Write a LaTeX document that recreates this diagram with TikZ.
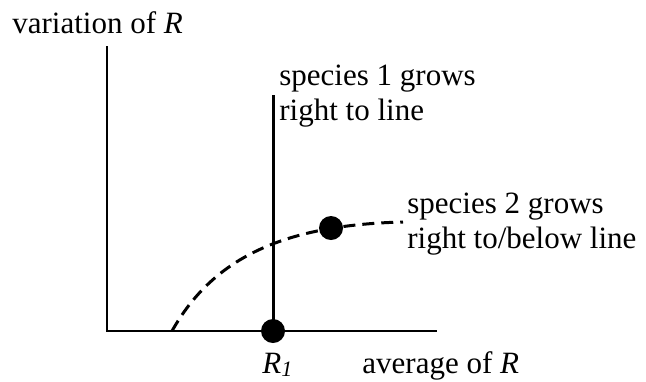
\documentclass[tikz,border=0pt]{standalone}
\usepackage{fontspec}
\setmainfont{Liberation Serif}
\usepackage{tikz}
\usetikzlibrary{positioning}
\tikzset{
  axis/.style  = {line width=1pt},
  sline/.style = {line width=1.5pt},
  dline/.style = {line width=1.5pt, dash pattern=on 6pt off 3.5pt},
  dot/.style   = {circle, fill=black, inner sep=0pt, minimum size=12pt},
  lbl/.style   = {font=\fontsize{15.5}{17.5}\selectfont, inner sep=0pt,
                  align=left, anchor=base west},
}
\begin{document}
\begin{tikzpicture}[x=0.5pt, y=-0.5pt]
\useasboundingbox (0,0) rectangle (646,381);

% --- axes ---
\coordinate (orig) at (107,331);
\coordinate (ytop) at (107,46);
\coordinate (xend) at (437,331);
\draw[axis] (ytop) -- (orig) -- (xend);

\node[lbl] (ylab) at (12,33) {variation of \textit{R}};
\node[lbl] (xlab) at (362,373) {average of \textit{R}};

% --- species 1 ---
\coordinate (s1top) at (273,95);
\node[dot] (r1) at (273,331) {};
\draw[sline] (s1top) -- (r1.center);
\node[lbl] (r1lab) at (262,373)
     {\textit{R}\raisebox{-0.12em}{\fontsize{11}{11}\selectfont\textit{1}}};
\node[lbl] (s1lab) at (279,120) {species 1 grows\\right to line};

% --- species 2 ---
\coordinate (c0) at (172,331);
\coordinate (c1) at (403,222);
\draw[dline] (c0) .. controls (212,260) and (280,225) .. (c1);
\node[dot] (s2dot) at (331,228) {};
\node[lbl] (s2lab) at (407,248) {species 2 grows\\right to/below line};
\end{tikzpicture}
\end{document}
